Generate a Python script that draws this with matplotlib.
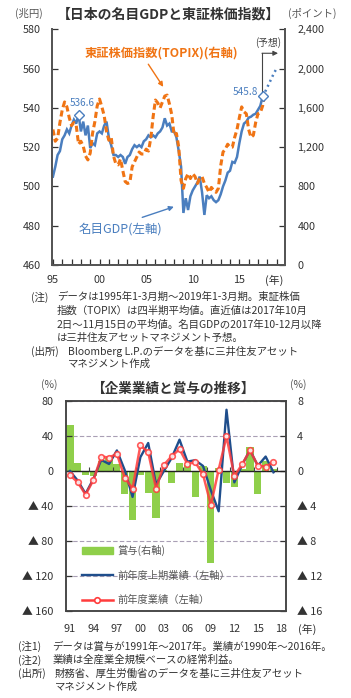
import matplotlib
matplotlib.use('Agg')
import matplotlib.pyplot as plt
from matplotlib.lines import Line2D
from matplotlib.patches import Patch

plt.rcParams['font.family'] = ['Noto Sans CJK JP', 'DejaVu Sans']

# ---------------- Chart 1 data (quarterly, 1995Q1 start) ----------------
gdp_start = 1995.0
gdp_actual = [505, 510, 516, 518,
              524, 526, 529, 527,
              531, 534, 532, 536.6,
              528, 533, 526, 531,
              519.5, 522, 521, 527,
              528, 527, 531, 533,
              525, 521, 516, 516,
              515, 516, 515, 511.5,
              515, 516, 519, 521,
              520, 521, 520, 523,
              524, 526, 525, 526,
              525, 527, 528, 530,
              534.7, 531, 532, 528,
              528, 525, 518, 510,
              486.5, 494, 488, 495,
              498, 500, 502, 505,
              497, 485.5, 495.5, 494,
              495, 493, 492, 493,
              496, 500, 503, 507,
              508, 512.5, 512, 515,
              522, 528, 532, 533,
              535, 535.5, 536.5, 537,
              539, 541, 545.8]
gdp_forecast = [545.8, 548, 550.5, 553, 555.5, 558, 560]
topix = [1380, 1260, 1290, 1450,
         1580, 1660, 1610, 1500,
         1420, 1450, 1420, 1230,
         1260, 1210, 1110, 1070,
         1140, 1340, 1460, 1620,
         1690, 1610, 1520, 1360,
         1270, 1300, 1110, 1030,
         1020, 1080, 960, 850,
         830, 840, 1000, 1050,
         1100, 1150, 1130, 1130,
         1180, 1160, 1290, 1510,
         1680, 1650, 1600, 1660,
         1720, 1730, 1640, 1530,
         1320, 1340, 1200, 860,
         780, 880, 930, 880,
         930, 900, 830, 880,
         900, 830, 790, 740,
         790, 760, 740, 780,
         1010, 1150, 1180, 1230,
         1200, 1200, 1300, 1380,
         1500, 1610, 1560, 1540,
         1380, 1300, 1320, 1450,
         1540, 1550, 1620, 1760]
gdp_ticks = [460, 480, 500, 520, 540, 560, 580]
topix_ticks = [0, 400, 800, 1200, 1600, 2000, 2400]
topix_ticklabels = ['0', '400', '800', '1,200', '1,600', '2,000', '2,400']
year_ticks1 = [1995, 2000, 2005, 2010, 2015]
year_labels1 = ['95', '00', '05', '10', '15']
minor_years1 = list(range(1995, 2020))

# ---------------- Chart 2 data (annual) ----------------
years2 = list(range(1991, 2018))
bonus = [5.3, 0.9, -0.45, -0.55, 1.2, 1.5, 0.8, -2.6, -5.6, -0.4,
         -2.5, -5.4, 0.1, -1.4, 0.9, 0.7, -3.0, 0.6, -10.5, 0.4,
         -1.4, -1.8, 0.2, 2.8, -2.65, 1.1, 0.2]
profit_h1 = [0, -11, -26, -9, 12.7, 8, 23.5, 1, -29.6, 15.8,
             32, -15.4, 0, 15, 35.8, 10.8, 12.3, 5.8, -22, -46,
             70, -13, 7, 24, 6, 16.5, -1.5]
profit_fy = [-4.6, -13, -27, -10.4, 16.5, 15.4, 19.6, -7.7, -20, 29.2,
             21.5, -20, 6.9, 16.9, 25, 8.1, 10, -3.8, -39, 1.5,
             39.6, -5.8, 7.7, 23.5, 6.2, 5, 10]
left2_ticks = [80, 40, 0, -40, -80, -120, -160]
left2_labels = ['80', '40', '0', '▲ 40', '▲ 80', '▲ 120', '▲ 160']
right2_ticks = [8, 4, 0, -4, -8, -12, -16]
right2_labels = ['8', '4', '0', '▲ 4', '▲ 8', '▲ 12', '▲ 16']
year_ticks2 = [1991, 1994, 1997, 2000, 2003, 2006, 2009, 2012, 2015, 2018]
year_labels2 = ['91', '94', '97', '00', '03', '06', '09', '12', '15', '18']
zero_marks2 = [1993.5, 1996.5, 1999.5, 2002.5, 2005.5, 2008.5, 2011.5, 2014.5, 2017.5]

W, H = 351, 698
fig = plt.figure(figsize=(W / 100, H / 100), dpi=100)
fig.patch.set_facecolor('white')


def rect(l, t, r, b):
    return [l / W, 1 - b / H, (r - l) / W, (b - t) / H]


def ftext(x, y, s, **kw):
    fig.text(x / W, 1 - y / H, s, **kw)


TXT = '#333333'
BLUE = '#4a7ebf'
ORANGE = '#f07414'
SPINE = '#555555'
TFS = 7.8

# ================= Chart 1 =================
ax1 = fig.add_axes(rect(52, 29.3, 285, 265))
tq = [gdp_start + i / 4 for i in range(len(gdp_actual))]
tf = [tq[-1] + i / 4 for i in range(len(gdp_forecast))]
tt = [gdp_start + i / 4 for i in range(len(topix))]

ax1.plot(tq, gdp_actual, color=BLUE, lw=1.8, solid_joinstyle='miter')
ax1.plot(tf, gdp_forecast, color=BLUE, lw=1.8, ls=(0, (0.8, 1.4)))
ax1.set_xlim(1994.9, 2019.9)
ax1.set_ylim(460, 580)
ax1.set_yticks(gdp_ticks)
ax1.set_xticks(year_ticks1)
ax1.set_xticklabels(year_labels1)
ax1.set_xticks(minor_years1, minor=True)
ax1.tick_params(axis='y', direction='in', length=4, pad=8, labelsize=TFS,
                colors=TXT, width=0.9)
ax1.tick_params(axis='x', which='both', direction='in', length=4, pad=7,
                labelsize=TFS, colors=TXT, width=0.9)

ax1b = ax1.twinx()
ax1b.plot(tt, topix, color=ORANGE, lw=2.2, dashes=(2.0, 1.1))
ax1b.set_ylim(0, 2400)
ax1b.set_yticks(topix_ticks)
ax1b.set_yticklabels(topix_ticklabels)
ax1b.tick_params(axis='y', direction='in', length=4, pad=9, labelsize=TFS,
                 colors=TXT, width=0.9)
for a in (ax1, ax1b):
    a.spines['top'].set_visible(False)
    for s in ('left', 'right', 'bottom'):
        a.spines[s].set_color(SPINE)
        a.spines[s].set_linewidth(1.3)

# diamonds & labels
i_peak = gdp_actual.index(max(gdp_actual[:40]))
ax1b.plot([tq[i_peak], tq[-1]], [gdp_actual[i_peak], gdp_actual[-1]], ls='none',
          marker='D', ms=5, mfc='white', mec=BLUE, mew=1.0,
          transform=ax1.transData, zorder=5)
ax1b.text(1998.1, 542.4, f'{gdp_actual[i_peak]:.1f}', color=BLUE, fontsize=7.2,
          ha='center', va='center', transform=ax1.transData)
ax1b.text(2015.6, 548.2, f'{gdp_actual[-1]:.1f}', color=BLUE, fontsize=7.2,
          ha='center', va='center', transform=ax1.transData)

ax1b.text(2006.6, 567.9, '東証株価指数(TOPIX)(右軸)', color=ORANGE, fontsize=8.8,
          fontweight='bold', ha='center', va='center', transform=ax1.transData)
ax1b.annotate('', xy=(2007.0, 549.5), xytext=(2005.07, 563.4),
              xycoords=ax1.transData, textcoords=ax1.transData,
              arrowprops=dict(arrowstyle='-|>', color=ORANGE, lw=1.0,
                              mutation_scale=7))
ax1b.text(2002.2, 478.4, '名目GDP(左軸)', color=BLUE, fontsize=9,
          ha='center', va='center', transform=ax1.transData)
ax1b.annotate('', xy=(2008.26, 490.1), xytext=(2004.3, 483.8),
              xycoords=ax1.transData, textcoords=ax1.transData,
              arrowprops=dict(arrowstyle='-|>', color=BLUE, lw=1.0,
                              mutation_scale=7))
# forecast marker
ax1b.plot([2017.43, 2017.43], [gdp_actual[-1], 567.8], color='#444444', lw=0.8,
          transform=ax1.transData)
ax1b.annotate('', xy=(2019.15, 567.8), xytext=(2017.43, 567.8),
              xycoords=ax1.transData, textcoords=ax1.transData,
              arrowprops=dict(arrowstyle='-|>', color='#444444', lw=0.8,
                              mutation_scale=7, shrinkA=0, shrinkB=0))
ax1b.text(2018.1, 573.3, '(予想)', color='#444444', fontsize=7,
          ha='center', va='center', transform=ax1.transData)

ftext(29, 13, '(兆円)', color='#555555', fontsize=7.5, ha='center', va='center')
ftext(312, 13, '(ポイント)', color='#555555', fontsize=7.5, ha='center', va='center')
ftext(168, 14, '【日本の名目GDPと東証株価指数】', color=TXT, fontsize=10,
      fontweight='bold', ha='center', va='center')
ftext(274, 280, '(年)', color=TXT, fontsize=TFS, ha='center', va='center')

NOTE = '#333333'
nfs = 7.5
ftext(31.5, 297, '(注)', color=NOTE, fontsize=nfs, va='center')
ftext(57, 297, 'データは1995年1-3月期～2019年1-3月期。東証株価', color=NOTE, fontsize=nfs, va='center')
ftext(57, 311, '指数（TOPIX）は四半期平均値。直近値は2017年10月', color=NOTE, fontsize=nfs, va='center')
ftext(57, 324.5, '2日～11月15日の平均値。名目GDPの2017年10-12月以降', color=NOTE, fontsize=nfs, va='center')
ftext(57, 338, 'は三井住友アセットマネジメント予想。', color=NOTE, fontsize=nfs, va='center')
ftext(31.5, 351, '(出所)', color=NOTE, fontsize=nfs, va='center')
ftext(68, 351, 'Bloomberg L.P.のデータを基に三井住友アセット', color=NOTE, fontsize=nfs, va='center')
ftext(68, 364, 'マネジメント作成', color=NOTE, fontsize=nfs, va='center')

# ================= Chart 2 =================
GREEN = '#8fcf4a'
NAVY = '#1f4e8c'
RED = '#ff3c3c'

axb = fig.add_axes(rect(66, 401, 286, 611))
axl = axb.twinx()

axb.bar(years2, bonus, width=0.92, color=GREEN, zorder=2)
axb.set_ylim(-16, 8)
axb.set_xlim(1990.5, 2018.6)
axb.set_yticks(right2_ticks)
axb.set_yticklabels(right2_labels)
axb.grid(axis='y', color='#a99fb5', lw=0.8, ls=(0, (4, 2)), zorder=1)
axb.set_axisbelow(True)
axb.axhline(0, color='#222222', lw=1.0, zorder=3)
axb.vlines(zero_marks2, 0, 0.45, color='#444444', lw=0.8, zorder=3)
axb.set_xticks(year_ticks2)
axb.set_xticklabels(year_labels2)
axb.tick_params(axis='x', length=0, pad=9, labelsize=TFS, colors=TXT)

axl.plot(years2, profit_h1, color=NAVY, lw=1.7, zorder=3)
axl.plot(years2, profit_fy, color=RED, lw=1.8, alpha=0.85, marker='o', ms=4,
         mfc='white', mec=RED, mew=1.2, zorder=4)
axl.set_ylim(-160, 80)
axl.set_yticks(left2_ticks)
axl.set_yticklabels(left2_labels)

# put bar axis ticks on the right, line axis ticks on the left
axb.yaxis.set_ticks_position('right')
axb.yaxis.set_label_position('right')
axl.yaxis.set_ticks_position('left')
axl.yaxis.set_label_position('left')
axb.tick_params(axis='y', which='both', left=False, labelleft=False,
                right=True, labelright=True, direction='in', length=4, pad=8,
                labelsize=TFS, colors=TXT, width=0.9)
axl.tick_params(axis='y', which='both', right=False, labelright=False,
                left=True, labelleft=True, direction='in', length=4, pad=9,
                labelsize=TFS, colors=TXT, width=0.9)
for a in (axb, axl):
    for s in a.spines.values():
        s.set_color('#444444')
        s.set_linewidth(1.1)

handles = [Patch(color=GREEN),
           Line2D([], [], color=NAVY, lw=1.7),
           Line2D([], [], color=RED, lw=1.8, marker='o', ms=4, mfc='white',
                  mec=RED, mew=1.2)]
labels = ['賞与(右軸)', '前年度上期業績（左軸）', '前年度業績（左軸）']
leg = axl.legend(handles, labels, loc='upper left',
                 bbox_to_anchor=(82 / W, 1 - 545 / H),
                 bbox_transform=fig.transFigure, frameon=False, fontsize=7.4,
                 handlelength=3.0, handletextpad=0.4, labelspacing=1.4,
                 borderpad=0, borderaxespad=0)
for t in leg.get_texts():
    t.set_color('#555555')

ftext(49, 385, '(%)', color='#555555', fontsize=7.5, ha='center', va='center')
ftext(298, 385, '(%)', color='#555555', fontsize=7.5, ha='center', va='center')
ftext(173, 389, '【企業業績と賞与の推移】', color=TXT, fontsize=9.8,
      fontweight='bold', ha='center', va='center')
ftext(307, 629, '(年)', color=TXT, fontsize=TFS, ha='center', va='center')

ftext(18, 646.5, '(注1)', color=NOTE, fontsize=nfs, va='center')
ftext(52.5, 646.5, 'データは賞与が1991年～2017年。業績が1990年～2016年。', color=NOTE, fontsize=nfs, va='center')
ftext(18, 660, '(注2)', color=NOTE, fontsize=nfs, va='center')
ftext(52.5, 660, '業績は全産業全規模ベースの経常利益。', color=NOTE, fontsize=nfs, va='center')
ftext(18, 673.5, '(出所)', color=NOTE, fontsize=nfs, va='center')
ftext(55, 673.5, '財務省、厚生労働省のデータを基に三井住友アセット', color=NOTE, fontsize=nfs, va='center')
ftext(55, 687, 'マネジメント作成', color=NOTE, fontsize=nfs, va='center')

fig.savefig('out.png', dpi=100, facecolor='white')
